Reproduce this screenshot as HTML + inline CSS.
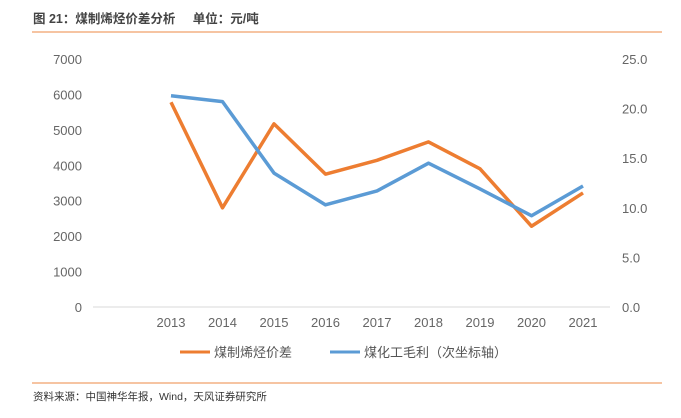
<!DOCTYPE html>
<html><head><meta charset="utf-8">
<style>
body{margin:0;width:681px;height:413px;background:#fff;overflow:hidden;font-family:"Liberation Sans","Noto Sans CJK SC",sans-serif;}
</style></head>
<body>
<svg id="c" width="681" height="413" xmlns="http://www.w3.org/2000/svg">
<text x="33" y="23" font-size="12.5" font-weight="bold" fill="#444">图 21：煤制烯烃价差分析&#160;&#160;&#160;&#160;&#160;单位：元/吨</text>
<line x1="32" y1="32" x2="662" y2="32" stroke="#f4b183" stroke-width="1.5"/>
<line x1="32" y1="383" x2="662" y2="383" stroke="#f4b183" stroke-width="1.5"/>
<text x="33" y="400" font-size="10.5" fill="#333">资料来源：中国神华年报，Wind，天风证券研究所</text>
<g id="axes"></g>
<g id="series"></g>
<g>
<line x1="180" y1="352" x2="210" y2="352" stroke="#ed7d31" stroke-width="3"/>
<text x="214" y="357" font-size="13" fill="#555">煤制烯烃价差</text>
<line x1="330" y1="352" x2="360" y2="352" stroke="#5b9bd5" stroke-width="3"/>
<text x="364" y="357" font-size="13" fill="#555">煤化工毛利（次坐标轴）</text>
</g>
</svg>
<script>
const years=["2013","2014","2015","2016","2017","2018","2019","2020","2021"];
const spread=[5780,2800,5170,3750,4140,4660,3900,2280,3220];
const margin=[21.3,20.7,13.5,10.3,11.7,14.5,11.9,9.2,12.2];
const leftTicks=[0,1000,2000,3000,4000,5000,6000,7000];
const rightTicks=[0,5,10,15,20,25];
{
const NS="http://www.w3.org/2000/svg";
const yTop=59,yBot=307;
function yL(v){return yBot-(v/7000)*(yBot-yTop);}
function yR(v){return yBot-(v/25)*(yBot-yTop);}
function xp(i){return 171+i*51.5;}
const ax=document.getElementById('axes'),se=document.getElementById('series');
function mk(t,a,p){const e=document.createElementNS(NS,t);for(const k in a)e.setAttribute(k,a[k]);p.appendChild(e);return e;}
const base=mk('line',{x1:93,y1:yBot,x2:610,y2:yBot,stroke:'#d9d9d9'},ax);


leftTicks.forEach(v=>{const t=mk('text',{x:82,y:yL(v)+5,'font-size':13,fill:'#666','text-anchor':'end'},ax);t.textContent=v;

});
rightTicks.forEach(v=>{const t=mk('text',{x:622,y:yR(v)+5,'font-size':13,fill:'#666'},ax);t.textContent=v.toFixed(1);

});
years.forEach((y,i)=>{const t=mk('text',{x:xp(i),y:327,'font-size':13,fill:'#666','text-anchor':'middle'},ax);t.textContent=y;

});
const p1=mk('polyline',{points:spread.map((v,i)=>xp(i)+','+yL(v)).join(' '),fill:'none',stroke:'#ed7d31','stroke-width':3.5,'stroke-linejoin':'round'},se);


const p2=mk('polyline',{points:margin.map((v,i)=>xp(i)+','+yR(v)).join(' '),fill:'none',stroke:'#5b9bd5','stroke-width':3.5,'stroke-linejoin':'round'},se);


}
</script>
</body></html>
